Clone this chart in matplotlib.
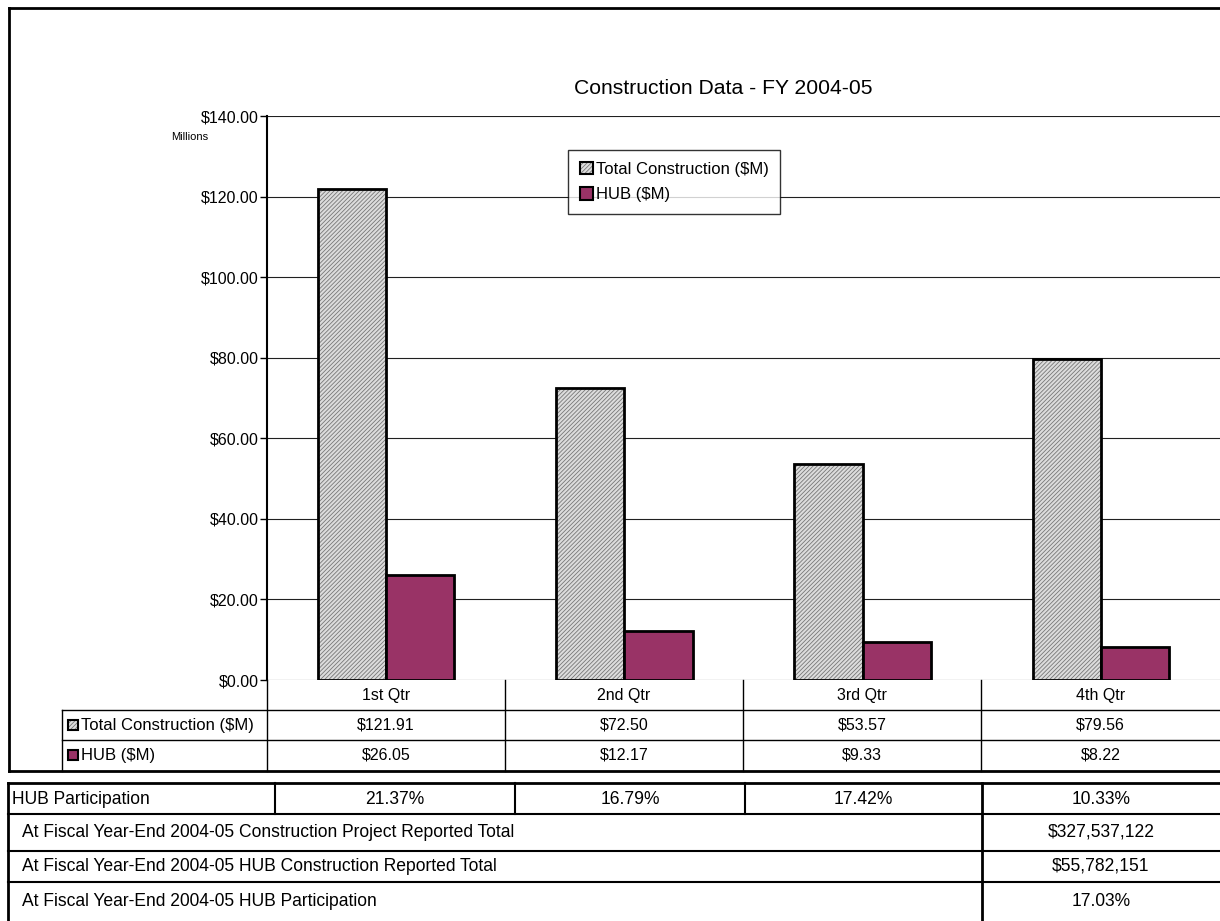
import matplotlib.pyplot as plt
import matplotlib.ticker as mticker
from matplotlib.patches import Patch, Rectangle
from matplotlib.legend_handler import HandlerTuple

plt.rcParams['font.family'] = ['Liberation Sans', 'DejaVu Sans']
plt.rcParams['hatch.linewidth'] = 0.6

# dane
quarters = ['1st Qtr', '2nd Qtr', '3rd Qtr', '4th Qtr']
total_construction = [121.91, 72.50, 53.57, 79.56]
hub = [26.05, 12.17, 9.33, 8.22]
hub_participation = [21.37, 16.79, 17.42, 10.33]
summary_labels = ['At Fiscal Year-End 2004-05 Construction Project Reported Total',
                  'At Fiscal Year-End 2004-05 HUB Construction Reported Total',
                  'At Fiscal Year-End 2004-05 HUB Participation']
summary_values = ['$327,537,122', '$55,782,151', '17.03%']

HUB_COLOR = '#993366'
HATCH_FACE = '#dcdcdc'
HATCH_GRAY = '#777777'
HATCH = '////////'
W, H = 1220, 921

fig = plt.figure(figsize=(W / 100, H / 100), dpi=100)

# warstwa pomocnicza w pikselach (ramki i tabele)
ov = fig.add_axes([0, 0, 1, 1], zorder=0)
ov.set_xlim(0, W)
ov.set_ylim(H, 0)
ov.axis('off')

# wykres glowny
left, top, bottom = 267, 116, 680
ax = fig.add_axes([left / W, (H - bottom) / H, (W - left) / W, (bottom - top) / H], zorder=1)
ax.patch.set_alpha(0)

x = list(range(len(quarters)))
bw = 0.286
xt = [i - bw / 2 for i in x]
xh = [i + bw / 2 for i in x]
ax.bar(xt, total_construction, bw, facecolor=HATCH_FACE, edgecolor=HATCH_GRAY, hatch=HATCH, linewidth=0, zorder=3)
ax.bar(xt, total_construction, bw, fill=False, edgecolor='black', linewidth=2, zorder=4)
ax.bar(xh, hub, bw, facecolor=HUB_COLOR, edgecolor='black', linewidth=2, zorder=4)

ax.set_xlim(-0.5, 3.5)
ax.set_ylim(0, 140)
ax.set_yticks(range(0, 141, 20))
ax.yaxis.set_major_formatter(mticker.FuncFormatter(lambda v, p: f'${v:,.2f}'))
ax.tick_params(axis='y', labelsize=11.5, length=5, width=1, direction='out', pad=1)
ax.set_xticks([])
ax.grid(axis='y', color='#202020', linewidth=0.8, zorder=0)
for s in ['top', 'right', 'bottom']:
    ax.spines[s].set_visible(False)
ax.spines['left'].set_linewidth(1.5)

# legenda
h_total = (Patch(facecolor=HATCH_FACE, edgecolor=HATCH_GRAY, hatch=HATCH, linewidth=0),
           Patch(fill=False, edgecolor='black', linewidth=1.5))
h_hub = Patch(facecolor=HUB_COLOR, edgecolor='black', linewidth=1.5)
leg = fig.legend([h_total, h_hub], ['Total Construction ($M)', 'HUB ($M)'],
                 handler_map={tuple: HandlerTuple(ndivide=1, pad=0)},
                 loc='upper left', bbox_to_anchor=(568 / W, 1 - 150 / H),
                 fontsize=12, frameon=True, fancybox=False, edgecolor='black',
                 handlelength=0.8, handleheight=0.8, handletextpad=0.15,
                 borderpad=0.7, labelspacing=0.6, borderaxespad=0)
leg.get_frame().set_linewidth(1.0)
leg.set_zorder(5)

# tytul
ov.text(723, 88, 'Construction Data - FY 2004-05', ha='center', va='center', fontsize=15.2)
ov.text(190, 137, 'Millions', ha='center', va='center', fontsize=8)

# ramka wykresu
ov.plot([9, W], [8, 8], color='black', lw=2)
ov.plot([9, 9], [8, 771], color='black', lw=2)
ov.plot([9, W], [771, 771], color='black', lw=2)

# tabela danych pod wykresem
col_edges = [267, 505, 743, 981, W]
for xe in col_edges[:-1]:
    ov.plot([xe, xe], [680, 771], color='black', lw=1)
ov.plot([62, W], [710, 710], color='black', lw=1)
ov.plot([62, W], [740, 740], color='black', lw=1)
ov.plot([62, 62], [710, 771], color='black', lw=1)

for i, q in enumerate(quarters):
    cx = (col_edges[i] + col_edges[i + 1]) / 2
    ov.text(cx, 695, q, ha='center', va='center', fontsize=11.5)
    ov.text(cx, 725, f'${total_construction[i]:,.2f}', ha='center', va='center', fontsize=11.5)
    ov.text(cx, 755, f'${hub[i]:,.2f}', ha='center', va='center', fontsize=11.5)

ov.add_patch(Rectangle((68, 720), 10, 10, facecolor=HATCH_FACE, edgecolor=HATCH_GRAY, hatch=HATCH, lw=0))
ov.add_patch(Rectangle((68, 720), 10, 10, fill=False, edgecolor='black', lw=1.5))
ov.add_patch(Rectangle((68, 750), 10, 10, facecolor=HUB_COLOR, edgecolor='black', lw=1.5))
ov.text(81, 725, 'Total Construction ($M)', ha='left', va='center', fontsize=12)
ov.text(81, 755, 'HUB ($M)', ha='left', va='center', fontsize=12)

# dolna tabela
pc_edges = [275, 515, 745, 982, W]
row_lines = [783, 814, 851, 882]
ov.plot([8, W], [row_lines[0], row_lines[0]], color='black', lw=2)
for yl in row_lines[1:]:
    ov.plot([8, W], [yl, yl], color='black', lw=1.5)
ov.plot([8, 8], [783, H], color='black', lw=2)
for xe in pc_edges[:-2]:
    ov.plot([xe, xe], [783, 814], color='black', lw=1.5)
ov.plot([982, 982], [783, H], color='black', lw=2)

fs_low = 12.65
ov.text(12, 799, 'HUB Participation', ha='left', va='center', fontsize=fs_low)
for i, v in enumerate(hub_participation):
    cx = (pc_edges[i] + pc_edges[i + 1]) / 2
    ov.text(cx, 799, f'{v:.2f}%', ha='center', va='center', fontsize=fs_low)

row_centers = [832, 866, 901]
for lab, val, yc in zip(summary_labels, summary_values, row_centers):
    ov.text(22, yc, lab, ha='left', va='center', fontsize=fs_low)
    ov.text(1101, yc, val, ha='center', va='center', fontsize=fs_low)

plt.savefig('out.png', dpi=100)
plt.close(fig)
